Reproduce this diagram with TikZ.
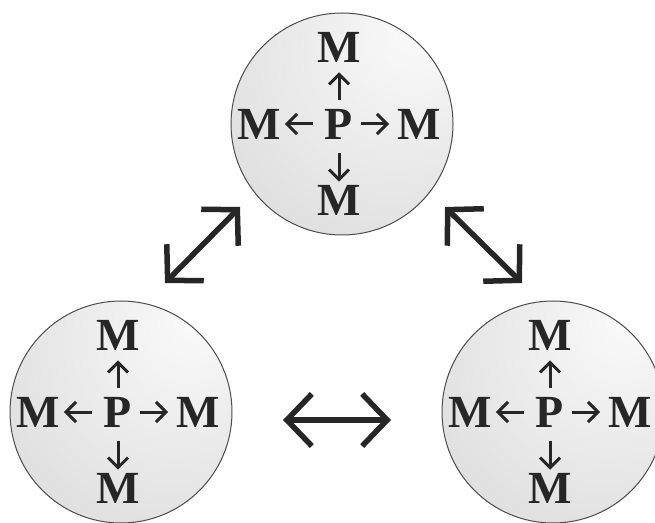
\documentclass[tikz,border=0pt]{standalone}
\usepackage{fontspec}
\setmainfont{Liberation Serif}
\usetikzlibrary{arrows.meta}

\pgfdeclareradialshading{sphere}{\pgfpoint{18bp}{22bp}}{color(0bp)=(gray!3); color(18bp)=(gray!13); color(50bp)=(gray!30); color(80bp)=(gray!46)}

\tikzset{
  ball/.style={circle, minimum size=222pt, inner sep=0pt, draw=black!70, line width=1pt, shading=sphere},
  lbl/.style={font=\fontsize{46}{46}\selectfont\bfseries, inner sep=0pt, text=black!85},
  ptom/.style={draw=black!85, line width=3pt, -{Straight Barb[length=10pt,width=20pt]}},
  exch/.style={line width=5.5pt, draw=black!85, {Straight Barb[length=25pt,width=52pt]}-{Straight Barb[length=25pt,width=52pt]}}
}

\begin{document}
\begin{tikzpicture}[x=1pt,y=1pt]
        \useasboundingbox (0,0) rectangle (655,522);

        \foreach \n/\cx/\cy in {top/342/398, lft/121/110, rgt/553/110}{
            \node[ball] (\n) at (\cx,\cy) {};
            \node[lbl] (P\n) at (\cx-3,\cy) {P};
            \node[lbl] (N\n) at (\cx-3,\cy+77) {M};
            \node[lbl] (S\n) at (\cx-3,\cy-76) {M};
            \node[lbl] (W\n) at (\cx-83,\cy) {M};
            \node[lbl] (E\n) at (\cx+77,\cy) {M};
            \draw[ptom, shorten <=9pt, shorten >=10pt] (P\n) -- (N\n);
            \draw[ptom, shorten <=14pt, shorten >=3pt] (P\n) -- (S\n);
            \draw[ptom, shorten <=12pt, shorten >=4pt] (P\n) -- (W\n);
            \draw[ptom, shorten <=8pt, shorten >=8pt] (P\n) -- (E\n);
        }

        \coordinate (ul1) at (240,315);
        \coordinate (ul2) at (165,239);
        \coordinate (ur1) at (445,315);
        \coordinate (ur2) at (522,239);
        \coordinate (h1) at (283,102);
        \coordinate (h2) at (391,102);

        \draw[exch] (ul1) -- (ul2);
        \draw[exch] (ur1) -- (ur2);
        \draw[exch] (h1) -- (h2);
\end{tikzpicture}
\end{document}
